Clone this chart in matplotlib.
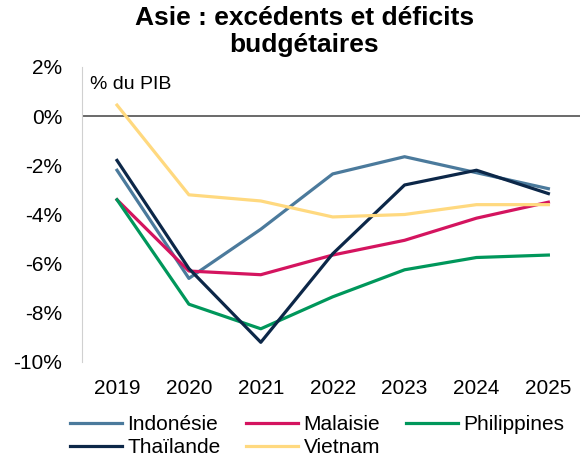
import matplotlib.pyplot as plt

plt.rcParams["font.family"] = ["Liberation Sans", "DejaVu Sans"]

years = ["2019", "2020", "2021", "2022", "2023", "2024", "2025"]
indonesie = [-2.2, -6.6, -4.6, -2.35, -1.65, -2.3, -2.95]
malaisie = [-3.4, -6.3, -6.45, -5.65, -5.05, -4.15, -3.5]
philippines = [-3.4, -7.65, -8.65, -7.35, -6.25, -5.75, -5.65]
thailande = [-1.8, -6.2, -9.2, -5.6, -2.8, -2.2, -3.15]
vietnam = [0.45, -3.2, -3.45, -4.1, -4.0, -3.6, -3.6]

series = [
    ("Indonésie", indonesie, "#4B7A9C"),
    ("Malaisie", malaisie, "#D4145F"),
    ("Philippines", philippines, "#00975B"),
    ("Thaïlande", thailande, "#0C2748"),
    ("Vietnam", vietnam, "#FFD97F"),
]

fig = plt.figure(figsize=(5.8, 4.62), dpi=100)
ax = fig.add_axes([0.141, 0.2165, 0.859, 0.6385])

xs = list(range(len(years)))
ax.axhline(0, color="#505050", lw=1.2, zorder=1)
lines = {}
for name, vals, c in series:
    lines[name], = ax.plot(xs, vals, color=c, lw=2.3, label=name, zorder=2)

ax.set_xlim(-0.49, 6.44)
ax.set_ylim(-10, 2)
ax.set_yticks(range(-10, 3, 2))
ax.set_yticklabels([f"{v}%" for v in range(-10, 3, 2)])
ax.set_xticks(xs)
ax.set_xticklabels(years)
ax.tick_params(length=0, labelsize=15)
ax.tick_params(axis="x", pad=12)
ax.tick_params(axis="y", pad=14)
for s in ["top", "right", "bottom"]:
    ax.spines[s].set_visible(False)
ax.spines["left"].set_color("#D0D0D0")

ax.text(0.016, 0.94, "% du PIB", transform=ax.transAxes, fontsize=14,
        va="center", ha="left")

fig.text(0.525, 0.988, "Asie : excédents et déficits\nbudgétaires",
         fontsize=19, fontweight="bold", ha="center", va="top",
         linespacing=1.2)

# legend filled column by column, so order gives rows Indo/Mala/Phil, Thai/Viet
order = ["Indonésie", "Thaïlande", "Malaisie", "Vietnam", "Philippines"]
ax.legend([lines[n] for n in order], order, loc="upper left",
          bbox_to_anchor=(-0.024, -0.18), ncol=3, frameon=False,
          fontsize=15, handlelength=2.5, handletextpad=0.25,
          columnspacing=1.25, labelspacing=0.2, borderaxespad=0,
          borderpad=0)

plt.savefig("out.png", dpi=100)
plt.close()
